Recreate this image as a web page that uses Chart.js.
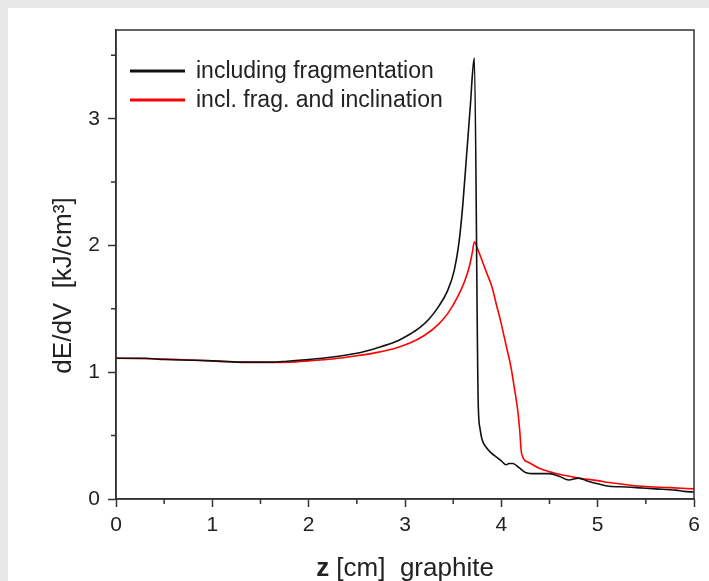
<!DOCTYPE html>
<html lang="en">
  <head>
    <meta charset="UTF-8" />
    <title>dE/dV vs z in graphite</title>
    <script src="https://cdn.jsdelivr.net/npm/chart.js"></script>
    <style>
      body { margin: 0; background: #e8e8e8; }
      #panel { position: absolute; left: 8px; top: 8px; width: 701px; height: 573px; background: #fff; }
    </style>
  </head>
  <body>
    <div id="panel">
      <canvas id="dedvChart" width="701" height="573"></canvas>
    </div>

    <script>
      // curves: z [cm] and dE/dV [kJ/cm^3]
      const zFrag = [0.00, 0.30, 0.50, 0.80, 1.00, 1.30, 1.60, 1.75, 2.00, 2.25, 2.50, 2.70, 2.90, 3.05, 3.15, 3.25,
        3.35, 3.44, 3.51, 3.56, 3.60, 3.64, 3.68, 3.70, 3.72, 3.76, 3.78, 3.80, 3.85, 3.90, 3.95, 4.00, 4.05, 4.08,
        4.12, 4.18, 4.25, 4.35, 4.50, 4.60, 4.70, 4.80, 4.90, 5.00, 5.12, 5.30, 5.46, 5.60, 5.81, 5.90, 6.00];
      const eFrag = [1.11, 1.11, 1.10, 1.095, 1.09, 1.08, 1.08, 1.085, 1.10, 1.12, 1.15, 1.19, 1.24, 1.30, 1.35, 1.42,
        1.52, 1.64, 1.80, 2.02, 2.32, 2.72, 3.12, 3.35, 3.48, 0.76, 0.55, 0.47, 0.40, 0.36, 0.33, 0.30, 0.27, 0.28,
        0.28, 0.25, 0.21, 0.20, 0.20, 0.18, 0.15, 0.165, 0.14, 0.12, 0.10, 0.095, 0.087, 0.08, 0.07, 0.06, 0.055];

      const zIncl = [0.00, 0.50, 1.00, 1.30, 1.60, 1.80, 2.00, 2.25, 2.50, 2.70, 2.90, 3.05, 3.20, 3.35, 3.45, 3.55,
        3.62, 3.67, 3.70, 3.72, 3.76, 3.85, 3.90, 3.95, 4.00, 4.05, 4.10, 4.13, 4.17, 4.19, 4.21, 4.28, 4.40, 4.50,
        4.77, 5.00, 5.12, 5.46, 5.75, 6.00];
      const eIncl = [1.11, 1.105, 1.09, 1.078, 1.077, 1.08, 1.09, 1.105, 1.13, 1.155, 1.19, 1.23, 1.29, 1.38, 1.47, 1.60,
        1.72, 1.84, 1.95, 2.03, 1.96, 1.78, 1.68, 1.53, 1.38, 1.21, 1.04, 0.90, 0.70, 0.55, 0.36, 0.29, 0.24, 0.215,
        0.17, 0.145, 0.13, 0.10, 0.09, 0.08];

      const seriesNames = ['including fragmentation', 'incl. frag. and inclination'];
      const seriesColors = ['#111111', '#ff0000'];

      const xTitle = ['z', ' [cm]  graphite'];
      const yTitle = 'dE/dV  [kJ/cm\u00b3]';

      const FONT = '"Liberation Sans", Arial, sans-serif';
      const INK = '#222';
      const AXIS = '#333';

      function toPoints(xs, ys) {
        return xs.map((x, i) => ({ x: x, y: ys[i] }));
      }

      function isMajor(v) {
        return Math.abs(v - Math.round(v)) < 1e-6;
      }

      function keepHalfSteps(scale) {
        scale.ticks = scale.ticks.filter(t => Math.abs(t.value * 2 - Math.round(t.value * 2)) < 1e-6);
      }

      // frame, minor ticks, legend inside the plot and the axis titles
      const decorations = {
        id: 'decorations',
        afterDraw(chart) {
          const ctx = chart.ctx;
          const area = chart.chartArea;
          const xs = chart.scales.x;
          const ys = chart.scales.y;
          ctx.save();

          ctx.strokeStyle = AXIS;
          ctx.lineWidth = 1.5;
          ctx.strokeRect(area.left, area.top, area.right - area.left, area.bottom - area.top);

          ctx.beginPath();
          xs.ticks.filter(t => !isMajor(t.value)).forEach(t => {
            const px = xs.getPixelForValue(t.value);
            ctx.moveTo(px, area.bottom);
            ctx.lineTo(px, area.bottom + 5);
          });
          ys.ticks.filter(t => !isMajor(t.value)).forEach(t => {
            const py = ys.getPixelForValue(t.value);
            ctx.moveTo(area.left, py);
            ctx.lineTo(area.left - 5, py);
          });
          ctx.stroke();

          // legend
          ctx.font = '23px ' + FONT;
          ctx.textBaseline = 'middle';
          ctx.textAlign = 'left';
          chart.data.datasets.forEach((ds, i) => {
            const y = area.top + 41 + i * 29;
            ctx.strokeStyle = ds.borderColor;
            ctx.lineWidth = 3;
            ctx.beginPath();
            ctx.moveTo(area.left + 14, y);
            ctx.lineTo(area.left + 69, y);
            ctx.stroke();
            ctx.fillStyle = INK;
            ctx.fillText(ds.label, area.left + 80, y + 1);
          });

          // x title, "z" in bold
          ctx.fillStyle = INK;
          ctx.textBaseline = 'alphabetic';
          const boldFont = 'bold 26px ' + FONT;
          const plainFont = '26px ' + FONT;
          ctx.font = boldFont;
          const w1 = ctx.measureText(xTitle[0]).width;
          ctx.font = plainFont;
          const w2 = ctx.measureText(xTitle[1]).width;
          const tx = (area.left + area.right) / 2 - (w1 + w2) / 2;
          ctx.font = boldFont;
          ctx.fillText(xTitle[0], tx, 568);
          ctx.font = plainFont;
          ctx.fillText(xTitle[1], tx + w1, 568);

          // y title
          ctx.translate(56, (area.top + area.bottom) / 2 + 21);
          ctx.rotate(-Math.PI / 2);
          ctx.textAlign = 'center';
          ctx.textBaseline = 'middle';
          ctx.font = '26px ' + FONT;
          ctx.fillText(yTitle, 0, 0);

          ctx.restore();
        }
      };

      const lineStyle = {
        borderWidth: 1.6,
        pointRadius: 0,
        cubicInterpolationMode: 'monotone'
      };

      const ctx = document.getElementById('dedvChart').getContext('2d');
      new Chart(ctx, {
        type: 'line',
        data: {
          datasets: [
            Object.assign({
              label: seriesNames[0],
              data: toPoints(zFrag, eFrag),
              borderColor: seriesColors[0],
              backgroundColor: seriesColors[0]
            }, lineStyle),
            Object.assign({
              label: seriesNames[1],
              data: toPoints(zIncl, eIncl),
              borderColor: seriesColors[1],
              backgroundColor: seriesColors[1]
            }, lineStyle)
          ]
        },
        options: {
          responsive: false,
          animation: false,
          layout: { padding: { top: 22, right: 15, bottom: 0, left: 0 } },
          plugins: {
            legend: { display: false },
            tooltip: { enabled: false }
          },
          scales: {
            x: {
              type: 'linear',
              min: 0,
              max: 6,
              afterBuildTicks: keepHalfSteps,
              afterFit: scale => { scale.height = 82; },
              ticks: {
                stepSize: 0.5,
                autoSkip: false,
                maxRotation: 0,
                padding: 6,
                color: INK,
                font: { family: FONT, size: 21 },
                callback: v => isMajor(v) ? String(Math.round(v)) : ''
              },
              grid: {
                drawOnChartArea: false,
                drawTicks: true,
                tickLength: 8,
                tickWidth: 1.5,
                tickColor: c => isMajor(c.tick.value) ? AXIS : 'rgba(0,0,0,0)'
              },
              border: { color: AXIS, width: 1.5 }
            },
            y: {
              min: 0,
              max: 3.7,
              afterBuildTicks: keepHalfSteps,
              afterFit: scale => { scale.width = 108; },
              ticks: {
                stepSize: 0.5,
                autoSkip: false,
                padding: 8,
                color: INK,
                font: { family: FONT, size: 21 },
                callback: v => isMajor(v) ? String(Math.round(v)) : ''
              },
              grid: {
                drawOnChartArea: false,
                drawTicks: true,
                tickLength: 8,
                tickWidth: 1.5,
                tickColor: c => isMajor(c.tick.value) ? AXIS : 'rgba(0,0,0,0)'
              },
              border: { color: AXIS, width: 1.5 }
            }
          }
        },
        plugins: [decorations]
      });
    </script>
  </body>
</html>
